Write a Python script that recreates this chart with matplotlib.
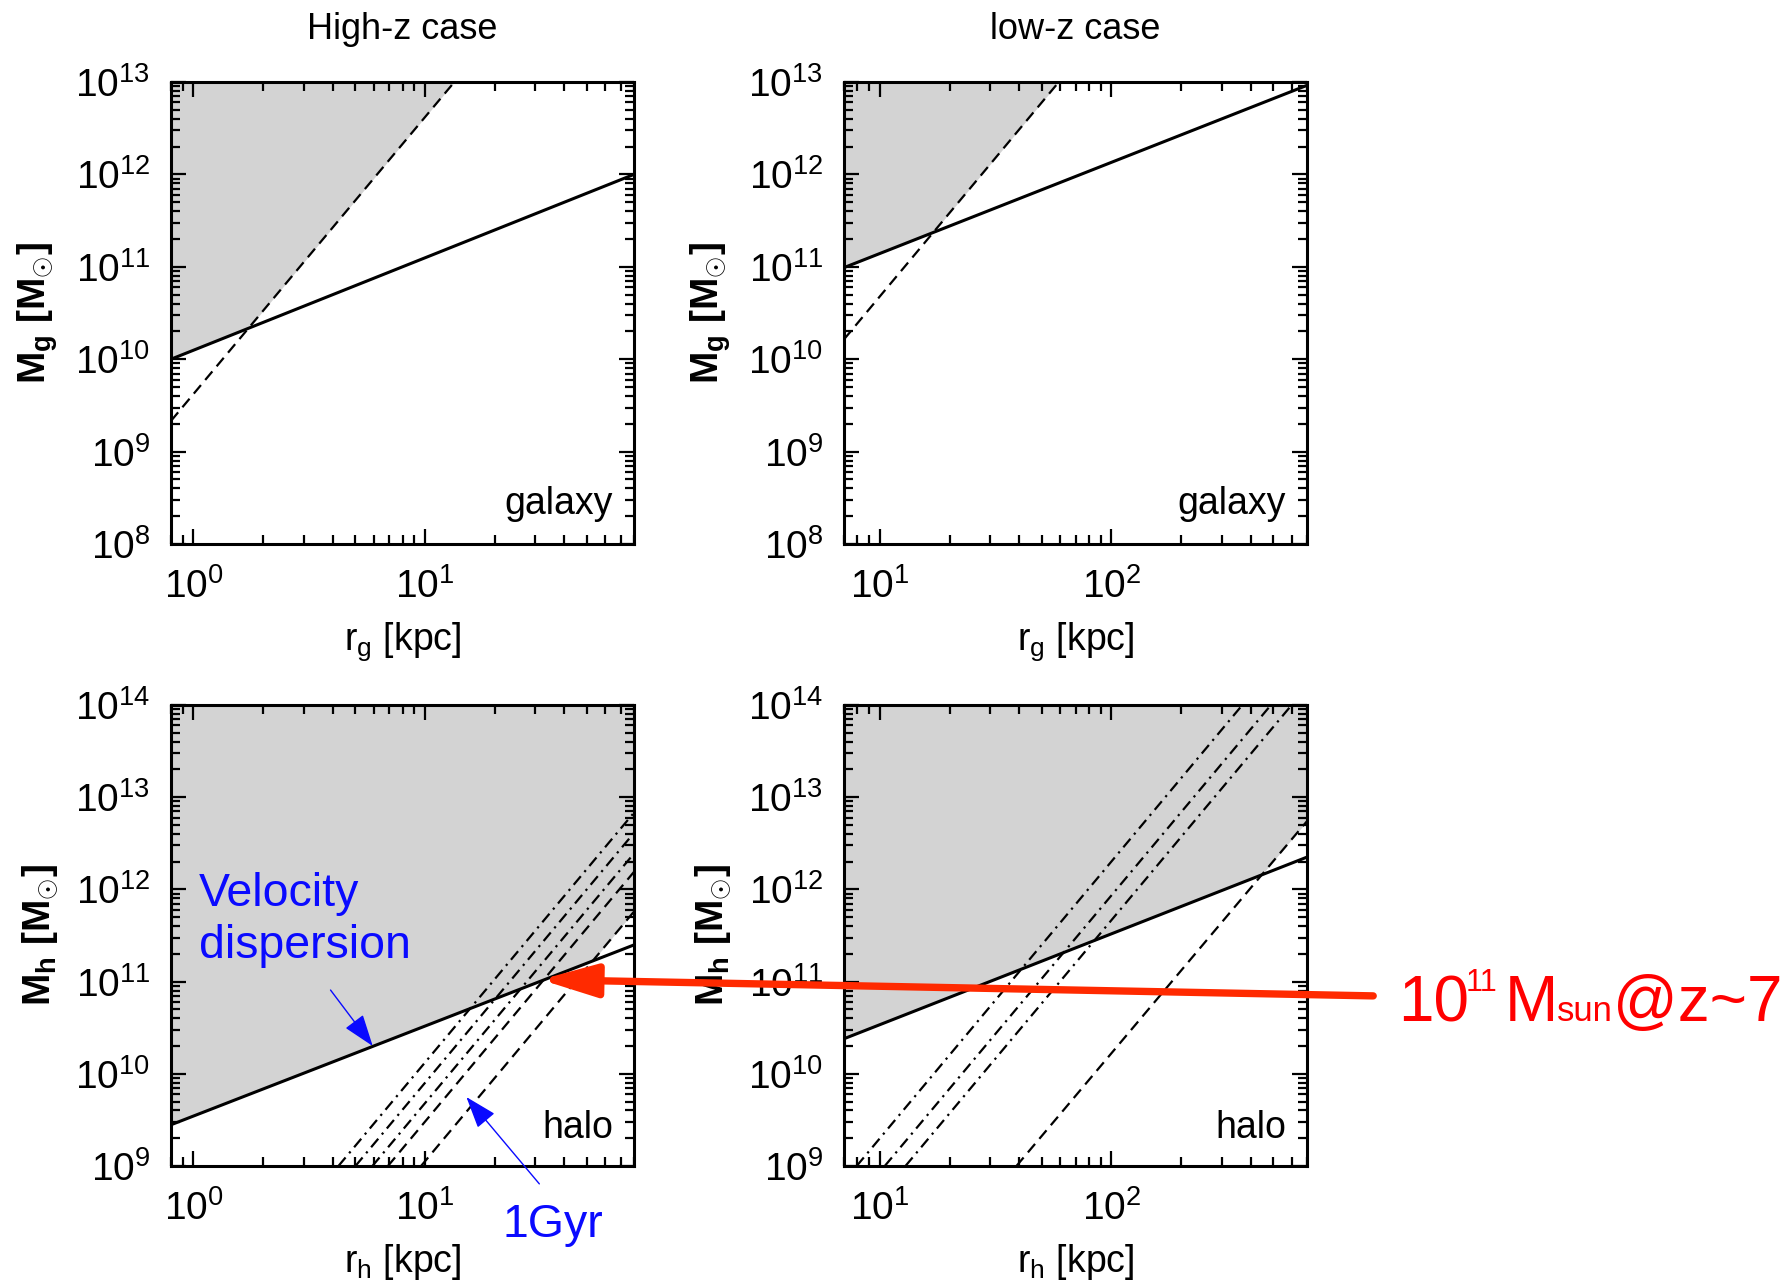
import numpy as np
import matplotlib
matplotlib.use('Agg')
import matplotlib.pyplot as plt
from matplotlib.ticker import NullFormatter, LogLocator

plt.rcParams['font.family'] = ['Liberation Sans', 'DejaVu Sans']
plt.rcParams['mathtext.fontset'] = 'custom'
plt.rcParams['mathtext.rm'] = 'Liberation Sans'
plt.rcParams['mathtext.it'] = 'Liberation Sans:italic'
plt.rcParams['mathtext.bf'] = 'Liberation Sans:bold'

# values: r in kpc, M in Msun
# high-z galaxy
hz_gal_solid_r = [0.8, 80]
hz_gal_solid_m = [1.0e10, 1.0e12]
hz_gal_dash_r = [0.8, 13.4]
hz_gal_dash_m = [2.15e9, 1.0e13]

# low-z galaxy
lz_gal_solid_r = [7, 700]
lz_gal_solid_m = [9.8e10, 9.2e12]
lz_gal_dash_r = [7, 59.3]
lz_gal_dash_m = [1.64e10, 1.0e13]

# high-z halo: solid line and the 1 Gyr family (start at M=1e9, end at r=80)
hz_halo_solid_r = [0.8, 80]
hz_halo_solid_m = [2.8e9, 2.5e11]
hz_time_r0 = [4.23, 5.01, 5.93, 6.92, 9.62]
hz_time_r1 = [80, 80, 80, 80, 80]
hz_time_m1 = [6.8e12, 4.1e12, 2.45e12, 1.55e12, 5.75e11]
hz_time_ls = ['dashdot', 'dashdot', 'dashdot', 'dashed', 'dashed']

# low-z halo
lz_halo_solid_r = [7, 700]
lz_halo_solid_m = [2.4e10, 2.24e12]
lz_time_r0 = [7.94, 10.5, 12.9, 38.9]
lz_time_r1 = [368, 489, 601, 700]
lz_time_m1 = [1e14, 1e14, 1e14, 5.5e12]
lz_time_ls = ['dashdot', 'dashdot', 'dashdot', 'dashed']

GREY = '#d3d3d3'
BLUE = '#0a0aff'
RED = '#ff2a00'
STYLES = {'dashed': (0, (5, 3)), 'dashdot': (0, (5, 2.5, 1, 2.5))}

W, H = 1791, 1287


def on_line(r, rp, mp):
    return 10 ** np.interp(np.log10(r), np.log10(rp), np.log10(mp))


def setup(ax, xlim, ylim, xlabel, ylabel, tag, tag_y):
    ax.set_xscale('log')
    ax.set_yscale('log')
    ax.set_xlim(*xlim)
    ax.set_ylim(*ylim)
    for axis in (ax.xaxis, ax.yaxis):
        axis.set_major_locator(LogLocator(base=10, numticks=20))
        axis.set_minor_locator(LogLocator(base=10, subs=np.arange(2, 10), numticks=100))
        axis.set_minor_formatter(NullFormatter())
    ax.tick_params(which='both', direction='in', top=True, right=True)
    ax.tick_params(which='major', length=11, width=1.6, labelsize=28)
    ax.tick_params(which='minor', length=6.5, width=1.6)
    ax.tick_params(axis='x', which='major', pad=17)
    ax.tick_params(axis='y', which='major', pad=15)
    for s in ax.spines.values():
        s.set_linewidth(2.2)
    ax.set_xlabel(xlabel, fontsize=27)
    ax.xaxis.set_label_coords(0.5, -0.165)
    ax.xaxis.label.set_va('top')
    ax.set_ylabel(ylabel, fontsize=28, fontweight='bold')
    ax.yaxis.set_label_coords(-0.24, 0.5)
    ax.text(0.955, tag_y, tag, transform=ax.transAxes, fontsize=27,
            ha='right', va='baseline')


def shade(ax, xlim, top, solid_r, solid_m, bound_r, bound_m):
    r = np.logspace(np.log10(xlim[0]), np.log10(xlim[1]), 600)
    low = np.maximum(on_line(r, solid_r, solid_m), on_line(r, bound_r, bound_m))
    ax.fill_between(r, low, top, color=GREY, lw=0, zorder=0)


fig = plt.figure(figsize=(W / 100, H / 100), dpi=100)
ax1 = fig.add_axes([171 / W, 1 - 544 / H, 463 / W, 462 / H])
ax2 = fig.add_axes([844 / W, 1 - 544 / H, 463 / W, 462 / H])
ax3 = fig.add_axes([171 / W, 1 - 1166 / H, 463 / W, 461 / H])
ax4 = fig.add_axes([844 / W, 1 - 1166 / H, 463 / W, 461 / H])

gal_y = r'M$_{\mathbf{g}}$ [M$_{\odot}$]'
halo_y = r'M$_{\mathbf{h}}$ [M$_{\odot}$]'

# top-left: high-z galaxy
shade(ax1, (0.8, 80), 1e13, hz_gal_solid_r, hz_gal_solid_m, hz_gal_dash_r, hz_gal_dash_m)
ax1.plot(hz_gal_solid_r, hz_gal_solid_m, color='black', lw=2.2)
ax1.plot(hz_gal_dash_r, hz_gal_dash_m, color='black', lw=1.6, ls=STYLES['dashed'])
setup(ax1, (0.8, 80), (1e8, 1e13), r'r$_{\rm g}$ [kpc]', gal_y, 'galaxy', 0.065)
ax1.set_title('High-z case', fontsize=26, pad=31)

# top-right: low-z galaxy
shade(ax2, (7, 700), 1e13, lz_gal_solid_r, lz_gal_solid_m, lz_gal_dash_r, lz_gal_dash_m)
ax2.plot(lz_gal_solid_r, lz_gal_solid_m, color='black', lw=2.2)
ax2.plot(lz_gal_dash_r, lz_gal_dash_m, color='black', lw=1.6, ls=STYLES['dashed'])
setup(ax2, (7, 700), (1e8, 1e13), r'r$_{\rm g}$ [kpc]', gal_y, 'galaxy', 0.065)
ax2.set_title('low-z case', fontsize=26, pad=31)

# bottom-left: high-z halo
shade(ax3, (0.8, 80), 1e14, hz_halo_solid_r, hz_halo_solid_m,
      [hz_time_r0[-1], hz_time_r1[-1]], [1e9, hz_time_m1[-1]])
ax3.plot(hz_halo_solid_r, hz_halo_solid_m, color='black', lw=2.2)
for r0, r1, m1, ls in zip(hz_time_r0, hz_time_r1, hz_time_m1, hz_time_ls):
    ax3.plot([r0, r1], [1e9, m1], color='black', lw=1.6, ls=STYLES[ls])
setup(ax3, (0.8, 80), (1e9, 1e14), r'r$_{\rm h}$ [kpc]', halo_y, 'halo', 0.06)

# bottom-right: low-z halo
shade(ax4, (7, 700), 1e14, lz_halo_solid_r, lz_halo_solid_m,
      [lz_time_r0[-1], lz_time_r1[-1]], [1e9, lz_time_m1[-1]])
ax4.plot(lz_halo_solid_r, lz_halo_solid_m, color='black', lw=2.2)
for r0, r1, m1, ls in zip(lz_time_r0, lz_time_r1, lz_time_m1, lz_time_ls):
    ax4.plot([r0, r1], [1e9, m1], color='black', lw=1.6, ls=STYLES[ls])
setup(ax4, (7, 700), (1e9, 1e14), r'r$_{\rm h}$ [kpc]', halo_y, 'halo', 0.06)

# blue annotations
ax3.text(0.06, 0.564, 'Velocity', transform=ax3.transAxes, fontsize=33.5,
         color=BLUE, va='baseline')
ax3.text(0.06, 0.451, 'dispersion', transform=ax3.transAxes, fontsize=33.5,
         color=BLUE, va='baseline')
ax3.annotate('', xy=(5.95, 2.0e10), xytext=(3.91, 8.1e10),
             arrowprops=dict(arrowstyle='-|>,head_length=2.0,head_width=0.7',
                             mutation_scale=10, lw=1, color=BLUE,
                             shrinkA=0, shrinkB=0))
ax3.text(0.717, -0.154, '1Gyr', transform=ax3.transAxes, fontsize=33.5,
         color=BLUE, va='baseline')
ax3.annotate('', xy=(15.1, 5.6e9), xytext=(31.2, 6.4e8),
             arrowprops=dict(arrowstyle='-|>,head_length=2.0,head_width=0.7',
                             mutation_scale=10, lw=1, color=BLUE,
                             shrinkA=0, shrinkB=0),
             annotation_clip=False)

# red arrow from the label into the high-z halo panel
ax4.annotate('', xy=(31.6, 1.05e11), xycoords=ax3.transData,
             xytext=(1.143, 0.369), textcoords='axes fraction',
             arrowprops=dict(arrowstyle='-|>,head_length=1.7,head_width=0.5',
                             mutation_scale=20, lw=5.3, color=RED,
                             shrinkA=0, shrinkB=0),
             annotation_clip=False, zorder=20)

fig.text(1398 / W, 1 - 1021 / H, '10', fontsize=46, color='red', va='baseline')
fig.text(1466 / W, 1 - 991 / H, '11', fontsize=22, color='red', va='baseline')
fig.text(1505 / W, 1 - 1021 / H, 'M', fontsize=46, color='red', va='baseline')
fig.text(1557 / W, 1 - 1021 / H, 'sun', fontsize=25, color='red', va='baseline')
fig.text(1613 / W, 1 - 1021 / H, '@z~7', fontsize=46, color='red', va='baseline')

fig.savefig('out.png', dpi=100)
